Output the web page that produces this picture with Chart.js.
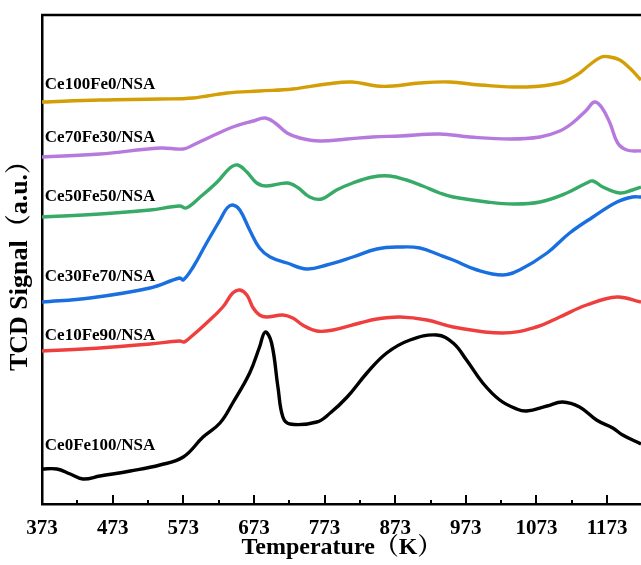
<!DOCTYPE html>
<html>
<head>
<meta charset="utf-8">
<script src="https://cdn.jsdelivr.net/npm/chart.js@4.4.0/dist/chart.umd.min.js"></script>
<style>
  html, body { margin: 0; padding: 0; background: #fff; }
  #wrap { width: 641px; height: 565px; }
</style>
</head>
<body>
<div id="wrap"><canvas id="tpr"></canvas></div>
<script>
// TPR profiles, temperature in K vs TCD signal (arbitrary units, stacked offsets)
var sampleNames = ["Ce0Fe100/NSA", "Ce10Fe90/NSA", "Ce30Fe70/NSA", "Ce50Fe50/NSA", "Ce70Fe30/NSA", "Ce100Fe0/NSA"];
var sampleColors = ["#000000", "#ef3e3e", "#1a6fe0", "#38aa68", "#b67ade", "#d49e06"];

var tCe0Fe100 = [373, 394, 413, 431, 455, 498, 540, 573, 601, 625, 643, 667, 681, 689, 698, 707, 714, 724, 762, 781, 805, 833, 861, 894, 932, 955, 974, 997, 1021, 1045, 1059, 1088, 1110, 1134, 1158, 1181, 1195, 1221];
var sCe0Fe100 = [35, 35, 30, 25, 28, 33, 39, 47, 67, 81, 101, 131, 157, 172, 161, 117, 87, 80, 82, 91, 107, 131, 151, 164, 169, 161, 144, 121, 104, 95, 93, 98, 102, 97, 84, 76, 69, 60];

var tCe10Fe90 = [373, 455, 526, 568, 574, 582, 606, 629, 643, 653, 663, 672, 681, 691, 714, 728, 742, 762, 785, 823, 847, 880, 918, 955, 1025, 1073, 1106, 1144, 1187, 1221];
var sCe10Fe90 = [153, 156, 160, 163, 162, 166, 181, 197, 211, 214, 209, 196, 189, 187, 189, 186, 179, 173, 174, 181, 185, 187, 184, 177, 171, 177, 187, 199, 207, 202];

var tCe30Fe70 = [373, 441, 526, 568, 573, 587, 606, 625, 635, 643, 653, 667, 681, 696, 720, 748, 776, 813, 847, 880, 908, 936, 955, 989, 1025, 1049, 1088, 1120, 1153, 1187, 1209, 1221];
var sCe30Fe70 = [202, 206, 216, 226, 224, 237, 261, 284, 296, 299, 294, 274, 256, 247, 241, 235, 239, 247, 255, 257, 256, 249, 244, 234, 229, 234, 251, 271, 287, 302, 307, 307];

var tCe50Fe50 = [373, 455, 526, 568, 577, 597, 621, 639, 650, 663, 677, 691, 720, 734, 752, 769, 790, 813, 841, 865, 889, 912, 936, 955, 1003, 1040, 1078, 1116, 1144, 1153, 1167, 1191, 1209, 1221];
var sCe50Fe50 = [287, 290, 294, 298, 296, 307, 322, 336, 339, 332, 321, 318, 321, 317, 307, 305, 314, 321, 327, 328, 324, 318, 311, 307, 302, 300, 302, 311, 321, 323, 317, 311, 314, 317];

var tCe70Fe30 = [373, 455, 540, 573, 587, 611, 643, 672, 689, 703, 720, 738, 766, 805, 841, 880, 936, 979, 1035, 1078, 1106, 1124, 1144, 1155, 1165, 1177, 1188, 1201, 1221];
var sCe70Fe30 = [347, 350, 356, 355, 359, 367, 377, 383, 386, 381, 371, 366, 363, 365, 367, 368, 370, 367, 365, 367, 373, 381, 394, 402, 397, 381, 361, 354, 353];

var tCe100Fe0 = [373, 455, 540, 587, 635, 681, 728, 776, 812, 847, 870, 908, 950, 993, 1059, 1106, 1130, 1148, 1165, 1177, 1191, 1205, 1221];
var sCe100Fe0 = [402, 404, 405, 406, 411, 413, 415, 420, 422, 418, 418, 421, 422, 419, 417, 421, 429, 439, 447, 447, 444, 436, 424];

// where each sample name sits (temperature, signal)
var labelT = [377, 377, 377, 377, 377, 377];
var labelS = [58, 168, 227, 307, 366, 419];

var xTicks = [373, 473, 573, 673, 773, 873, 973, 1073, 1173];
var xMinorTicks = [423, 523, 623, 723, 823, 923, 1023, 1123];

var temps = [tCe0Fe100, tCe10Fe90, tCe30Fe70, tCe50Fe50, tCe70Fe30, tCe100Fe0];
var signals = [sCe0Fe100, sCe10Fe90, sCe30Fe70, sCe50Fe50, sCe70Fe30, sCe100Fe0];

var serif = "'Liberation Serif', 'Times New Roman', 'Noto Serif CJK SC', serif";

var datasets = sampleNames.map(function (name, i) {
  return {
    label: name,
    data: temps[i].map(function (t, j) { return { x: t, y: signals[i][j] }; }),
    borderColor: sampleColors[i],
    borderWidth: 3.4,
    pointRadius: 0,
    tension: 0.4,
    fill: false
  };
});

// top frame line, inward tick marks and the sample names
var framePlugin = {
  id: 'frame',
  afterDraw: function (chart) {
    var ctx = chart.ctx, area = chart.chartArea;
    var xs = chart.scales.x, ys = chart.scales.y;
    ctx.save();
    ctx.strokeStyle = '#000';
    ctx.lineWidth = 2.5;
    ctx.beginPath();
    ctx.moveTo(area.left - 1, area.top);
    ctx.lineTo(area.right, area.top);
    ctx.stroke();

    ctx.lineWidth = 2;
    xTicks.forEach(function (v) {
      var px = Math.round(xs.getPixelForValue(v));
      ctx.beginPath();
      ctx.moveTo(px, area.bottom);
      ctx.lineTo(px, area.bottom - 9);
      ctx.stroke();
    });
    xMinorTicks.forEach(function (v) {
      var px = Math.round(xs.getPixelForValue(v));
      ctx.beginPath();
      ctx.moveTo(px, area.bottom);
      ctx.lineTo(px, area.bottom - 4);
      ctx.stroke();
    });

    ctx.fillStyle = '#000';
    ctx.font = 'bold 17px ' + serif;
    ctx.textBaseline = 'middle';
    ctx.textAlign = 'left';
    sampleNames.forEach(function (name, i) {
      ctx.fillText(name, xs.getPixelForValue(labelT[i]), ys.getPixelForValue(labelS[i]));
    });
    ctx.restore();
  }
};

var chart = new Chart(document.getElementById('tpr'), {
  type: 'line',
  data: { datasets: datasets },
  options: {
    responsive: true,
    maintainAspectRatio: false,
    animation: false,
    layout: { padding: { top: 15, right: 0, left: 0, bottom: 0 } },
    plugins: { legend: { display: false }, tooltip: { enabled: false } },
    scales: {
      x: {
        type: 'linear',
        min: 373,
        max: 1221,
        afterBuildTicks: function (scale) {
          scale.ticks = xTicks.map(function (v) { return { value: v }; });
        },
        afterFit: function (scale) { scale.height = 61; },
        grid: { display: false },
        border: { display: true, color: '#000', width: 2.5 },
        ticks: {
          color: '#000',
          padding: 4,
          maxRotation: 0,
          autoSkip: false,
          font: { family: serif, size: 21, weight: 'bold' },
          callback: function (v) { return String(v); }
        },
        title: {
          display: true,
          text: 'Temperature（K）',
          color: '#000',
          padding: { top: 0, bottom: 3 },
          font: { family: serif, size: 24, weight: 'bold' }
        }
      },
      y: {
        min: 0,
        max: 489,
        afterFit: function (scale) { scale.width = 42; },
        grid: { display: false },
        border: { display: true, color: '#000', width: 2.5 },
        ticks: { display: false },
        title: {
          display: true,
          text: 'TCD Signal（a.u.）',
          color: '#000',
          padding: { top: 5, bottom: 0 },
          font: { family: serif, size: 26, weight: 'bold' }
        }
      }
    }
  },
  plugins: [framePlugin]
});
</script>
</body>
</html>
